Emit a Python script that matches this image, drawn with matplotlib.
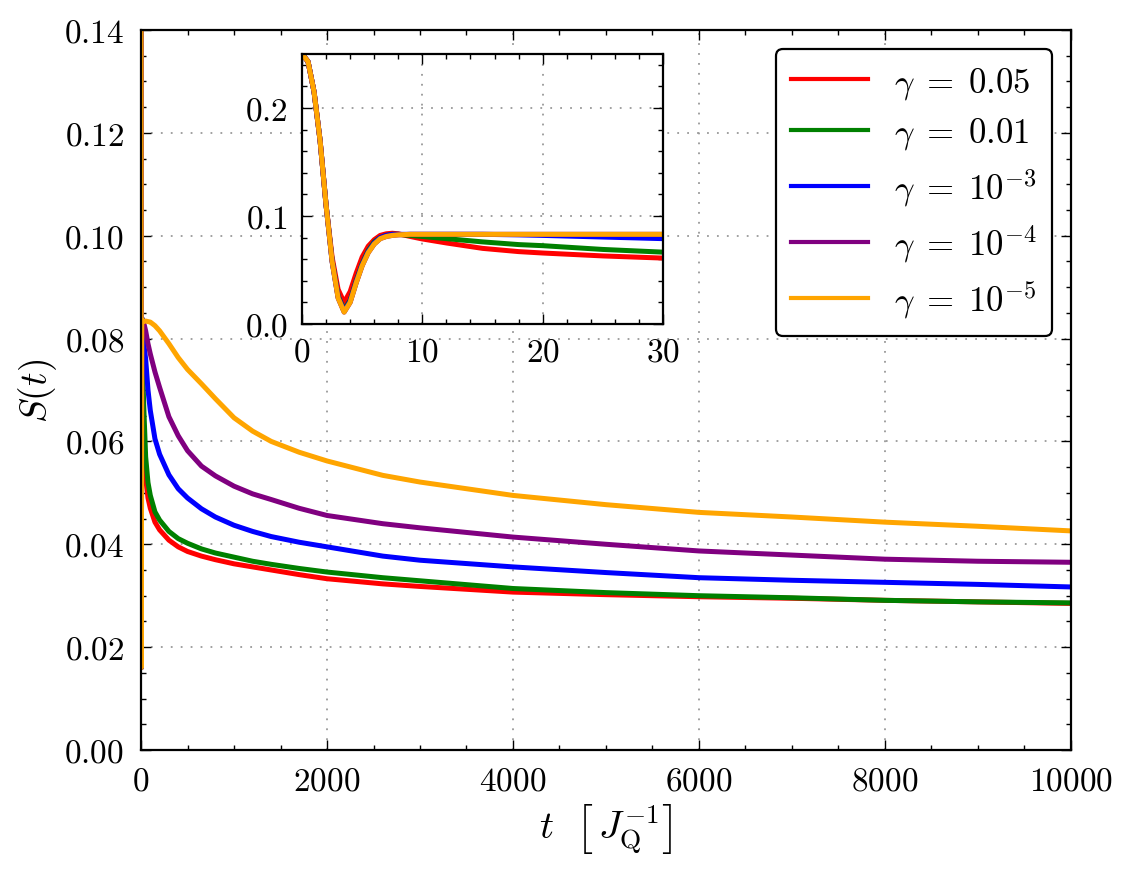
import numpy as np
import matplotlib
matplotlib.use('Agg')
import matplotlib.pyplot as plt
from matplotlib.ticker import MultipleLocator

# フォント設定 (Computer Modern風)
plt.rcParams['font.family'] = 'serif'
plt.rcParams['font.serif'] = ['cmr10', 'DejaVu Serif']
plt.rcParams['mathtext.fontset'] = 'cm'
plt.rcParams['axes.formatter.use_mathtext'] = True
plt.rcParams['axes.unicode_minus'] = False

# 系列のラベルと色
labels = [r'$\gamma\;=\;0.05$', r'$\gamma\;=\;0.01$', r'$\gamma\;=\;10^{-3}$',
          r'$\gamma\;=\;10^{-4}$', r'$\gamma\;=\;10^{-5}$']
colors = ['red', 'green', 'blue', 'purple', 'orange']

# メインの時間軸 (長時間)
t_main = [0, 3, 8, 20, 30, 50, 75, 100, 150, 200,
          300, 400, 500, 650, 800, 1000, 1200, 1400, 1700, 2000,
          2600, 3000, 4000, 5000, 6000, 7000, 8000, 9000, 10000]
s_main_005 = [0.25, 0.020, 0.084, 0.066, 0.061, 0.053, 0.049, 0.047, 0.0443, 0.0428,
              0.0408, 0.0395, 0.0386, 0.0377, 0.0370, 0.0362, 0.0356, 0.0350, 0.0341, 0.0333,
              0.0323, 0.0318, 0.0307, 0.0302, 0.0298, 0.0295, 0.0291, 0.0288, 0.0285]
s_main_001 = [0.25, 0.016, 0.084, 0.0725, 0.0665, 0.057, 0.052, 0.0495, 0.0463, 0.0447,
              0.0425, 0.0411, 0.0402, 0.0391, 0.0383, 0.0375, 0.0367, 0.0361, 0.0353, 0.0346,
              0.0335, 0.0329, 0.0314, 0.0306, 0.0300, 0.0296, 0.0291, 0.0288, 0.0286]
s_main_1e3 = [0.25, 0.016, 0.084, 0.083, 0.079, 0.076, 0.070, 0.066, 0.0605, 0.0575,
              0.0535, 0.0508, 0.0490, 0.0469, 0.0453, 0.0437, 0.0425, 0.0415, 0.0404, 0.0395,
              0.0377, 0.0369, 0.0356, 0.0345, 0.0335, 0.0330, 0.0326, 0.0322, 0.0317]
s_main_1e4 = [0.25, 0.016, 0.083, 0.083, 0.083, 0.0815, 0.079, 0.0770, 0.0735, 0.0705,
              0.0648, 0.0611, 0.0582, 0.0552, 0.0533, 0.0513, 0.0498, 0.0487, 0.0470, 0.0456,
              0.0440, 0.0432, 0.0414, 0.0400, 0.0387, 0.0379, 0.0371, 0.0367, 0.0365]
s_main_1e5 = [0.25, 0.016, 0.083, 0.0834, 0.0834, 0.0834, 0.0833, 0.0832, 0.0825, 0.0815,
              0.0790, 0.0763, 0.0740, 0.0712, 0.0683, 0.0646, 0.0620, 0.0600, 0.0579, 0.0562,
              0.0534, 0.0521, 0.0495, 0.0477, 0.0462, 0.0453, 0.0443, 0.0435, 0.0426]

# インセットの時間軸 (短時間)
t_inset = [0, 0.5, 1, 1.5, 2, 2.5, 3, 3.5, 4, 4.5, 5, 5.5, 6, 6.5, 7, 7.5, 8,
           9, 10, 12, 15, 18, 20, 25, 30]
s_in_005 = [0.25, 0.243, 0.215, 0.170, 0.110, 0.062, 0.032, 0.020, 0.030, 0.047,
            0.062, 0.072, 0.078, 0.082, 0.0835, 0.084, 0.0835, 0.081, 0.0787, 0.075,
            0.070, 0.067, 0.0657, 0.063, 0.061]
s_in_001 = [0.25, 0.243, 0.215, 0.170, 0.110, 0.059, 0.026, 0.013, 0.022, 0.040,
            0.056, 0.068, 0.076, 0.080, 0.082, 0.083, 0.083, 0.082, 0.081, 0.079,
            0.076, 0.0735, 0.0725, 0.069, 0.0665]
s_in_1e3 = [0.25, 0.243, 0.215, 0.170, 0.110, 0.058, 0.025, 0.012, 0.021, 0.039,
            0.055, 0.067, 0.075, 0.080, 0.082, 0.083, 0.083, 0.083, 0.083, 0.083,
            0.083, 0.0825, 0.082, 0.0805, 0.079]
s_in_1e4 = [0.25, 0.243, 0.215, 0.170, 0.110, 0.058, 0.024, 0.011, 0.020, 0.038,
            0.054, 0.066, 0.074, 0.079, 0.081, 0.082, 0.0825, 0.083, 0.083, 0.083,
            0.083, 0.083, 0.083, 0.083, 0.083]
s_in_1e5 = [0.25, 0.243, 0.215, 0.170, 0.110, 0.058, 0.024, 0.011, 0.020, 0.038,
            0.054, 0.066, 0.074, 0.079, 0.081, 0.082, 0.0825, 0.083, 0.083, 0.083,
            0.083, 0.083, 0.083, 0.083, 0.083]

main_series = [s_main_005, s_main_001, s_main_1e3, s_main_1e4, s_main_1e5]
inset_series = [s_in_005, s_in_001, s_in_1e3, s_in_1e4, s_in_1e5]

fs = 24
lw = 3.6


def style_axes(ax):
    ax.tick_params(which='both', direction='in', top=True, right=True,
                   labelsize=fs, width=1.0)
    ax.tick_params(which='major', length=7, pad=12)
    ax.tick_params(which='minor', length=3.5)
    for sp in ax.spines.values():
        sp.set_linewidth(1.6)
    ax.grid(True, which='major', linestyle=(0, (1, 4.5)), color='0.6', linewidth=1.3)
    ax.set_axisbelow(True)


fig = plt.figure(figsize=(11.29, 8.95), dpi=100)
ax = fig.add_axes([0.1249, 0.1609, 0.8237, 0.8045])

for s, c, lab in zip(main_series, colors, labels):
    ax.plot(t_main, s, color=c, lw=lw, label=lab)

ax.set_xlim(0, 10000)
ax.set_ylim(0, 0.14)
ax.xaxis.set_major_locator(MultipleLocator(2000))
ax.xaxis.set_minor_locator(MultipleLocator(500))
ax.yaxis.set_major_locator(MultipleLocator(0.02))
ax.yaxis.set_minor_locator(MultipleLocator(0.005))
style_axes(ax)
ax.set_xlabel(r'$t\ \ \left[\,J_{\mathrm{Q}}^{-1}\right]$', fontsize=28, labelpad=4)
ax.set_ylabel(r'$S(t)$', fontsize=27, labelpad=4)

leg = ax.legend(loc='upper right', fontsize=25, handlelength=2.2,
                handletextpad=0.75, labelspacing=0.42, borderpad=0.45,
                bbox_to_anchor=(0.9796, 0.9736), borderaxespad=0.0,
                fancybox=True, framealpha=1.0)
leg.get_frame().set_edgecolor('black')
leg.get_frame().set_linewidth(1.6)
for h in leg.get_lines():
    h.set_linewidth(3.0)

# インセット
axin = fig.add_axes([0.2675, 0.6369, 0.3198, 0.3017])
for s, c in zip(inset_series, colors):
    axin.plot(t_inset, s, color=c, lw=lw)
axin.set_xlim(0, 30)
axin.set_ylim(0, 0.25)
axin.xaxis.set_major_locator(MultipleLocator(10))
axin.xaxis.set_minor_locator(MultipleLocator(2))
axin.yaxis.set_major_locator(MultipleLocator(0.1))
axin.yaxis.set_minor_locator(MultipleLocator(0.02))
style_axes(axin)
axin.tick_params(which='major', pad=10)

fig.savefig('out.png', dpi=100)
